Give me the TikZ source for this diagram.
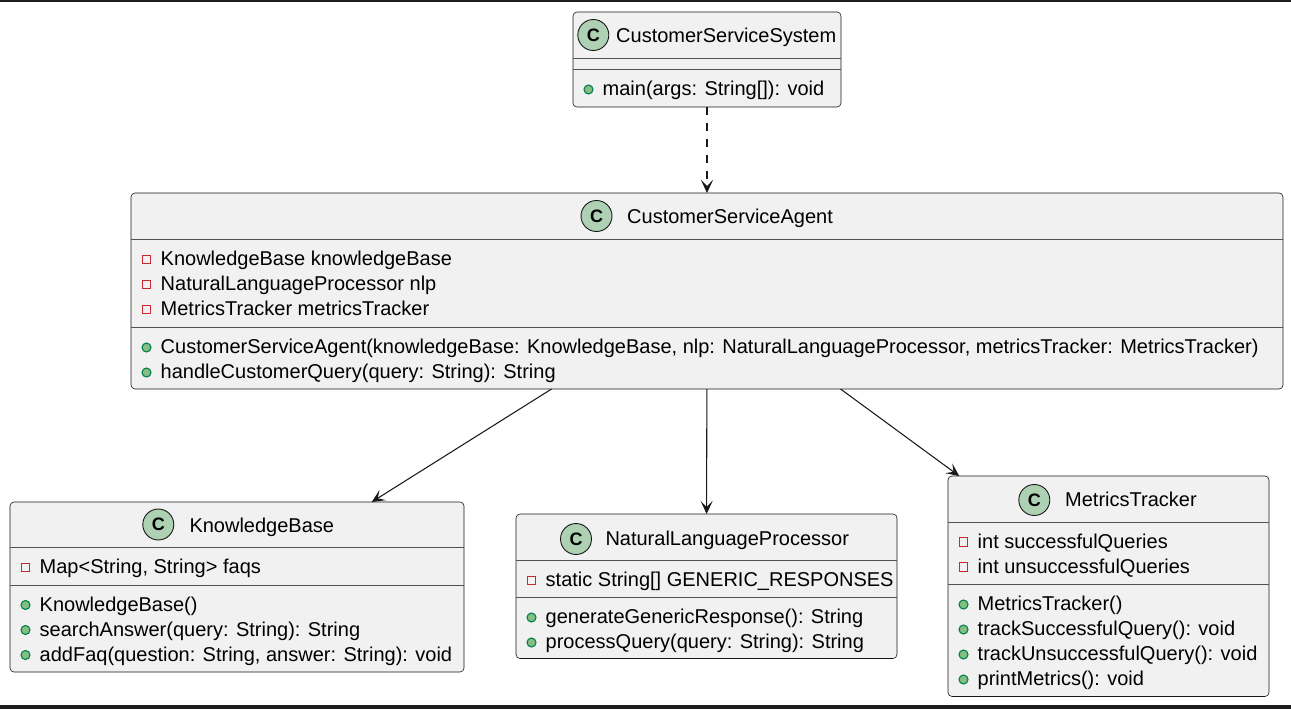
\documentclass[tikz,border=0pt]{standalone}
\usepackage{fontspec}
\setmainfont{Liberation Sans}
\usetikzlibrary{arrows.meta}
\definecolor{boxfill}{HTML}{F1F1F1}
\definecolor{boxline}{HTML}{181818}
\definecolor{cfill}{HTML}{ADD1B2}
\definecolor{privc}{HTML}{C82930}
\definecolor{pubfill}{HTML}{84BE84}
\definecolor{publine}{HTML}{038048}
\definecolor{band}{HTML}{1E1E1E}
\tikzset{
 classbox/.style={draw=boxline, fill=boxfill, rounded corners=4pt, line width=0.6pt, inner sep=0pt, outer sep=0pt},
 sepline/.style={draw=boxline!75, line width=0.6pt},
 cbadge/.style={circle, draw=boxline, fill=cfill, line width=0.9pt, minimum size=31pt, inner sep=0pt, font=\fontsize{18}{18}\selectfont\bfseries},
 titletext/.style={anchor=base west, inner sep=0pt, font=\fontsize{20}{24}\selectfont},
 member/.style={anchor=base west, inner sep=0pt, font=\fontsize{20}{24}\selectfont},
 priv/.style={draw=privc, line width=1.1pt},
 pub/.style={fill=pubfill, draw=publine, line width=1.1pt},
 dep/.style={draw=boxline, line width=1.05pt, -{Stealth[length=13pt,width=12pt,inset=6pt]}},
 depdash/.style={dep, dash pattern=on 8pt off 8pt},
}
\newcommand\umlbox[7]{%
 \node[classbox, minimum width={(#4-#2)*1pt}, minimum height={(#5-#3)*1pt}] (#1) at ({(#2+#4)/2},{(#3+#5)/2}) {};
 \draw[sepline] (#2,#6) -- (#4,#6);
 \draw[sepline] (#2,#7) -- (#4,#7);
}
\newcommand\umltitle[6]{%
 \node[cbadge] (#1c) at (#2,#3) {C};
 \node[titletext] (#1t) at (#4,#5) {#6};
}
\newcommand\attrrow[4]{%
 \draw[priv] ({#2+15.5-4.4},{#3-6-4.4}) rectangle ({#2+15.5+4.4},{#3-6+4.4});
 \node[member] (#1) at ({#2+29.5},#3) {#4};
}
\newcommand\methrow[4]{%
 \draw[pub] ({#2+15.5},{#3-6}) circle[radius=4.5pt];
 \node[member] (#1) at ({#2+29.5},#3) {#4};
}
\begin{document}
\begin{tikzpicture}[x=1pt,y=-1pt]
\useasboundingbox (0,0) rectangle (1291,709);
\fill[band] (0,0) rectangle (1291,2.3);
\fill[band] (0,705) rectangle (1291,709);

% CustomerServiceSystem
\umlbox{css}{573}{12}{841}{107}{58}{69}
\umltitle{css}{593.3}{35}{616}{42.5}{CustomerServiceSystem}
\methrow{cssm1}{573}{95.5}{main(args: String[]): void}

% CustomerServiceAgent
\umlbox{csa}{131}{193}{1283}{389}{239}{327}
\umltitle{csa}{596.5}{216}{627}{223.5}{CustomerServiceAgent}
\attrrow{csaa1}{131}{265.5}{KnowledgeBase knowledgeBase}
\attrrow{csaa2}{131}{290.5}{NaturalLanguageProcessor nlp}
\attrrow{csaa3}{131}{315.5}{MetricsTracker metricsTracker}
\methrow{csam1}{131}{353.5}{CustomerServiceAgent(knowledgeBase: KnowledgeBase, nlp: NaturalLanguageProcessor, metricsTracker: MetricsTracker)}
\methrow{csam2}{131}{378.5}{handleCustomerQuery(query: String): String}

% KnowledgeBase
\umlbox{kb}{10}{502}{464}{672}{547}{585}
\umltitle{kb}{158.3}{524.5}{189.3}{532.5}{KnowledgeBase}
\attrrow{kba1}{10}{573.5}{Map<String, String> faqs}
\methrow{kbm1}{10}{611}{KnowledgeBase()}
\methrow{kbm2}{10}{636}{searchAnswer(query: String): String}
\methrow{kbm3}{10}{661}{addFaq(question: String, answer: String): void}

% NaturalLanguageProcessor
\umlbox{nlp}{516}{514}{897}{658.5}{560}{597}
\umltitle{nlp}{576}{539}{605.3}{545}{NaturalLanguageProcessor}
\attrrow{nlpa1}{516}{586.5}{static String[] GENERIC\_RESPONSES}
\methrow{nlpm1}{516}{623.5}{generateGenericResponse(): String}
\methrow{nlpm2}{516}{648.5}{processQuery(query: String): String}

% MetricsTracker
\umlbox{mt}{948}{476}{1269}{696.5}{522}{584}
\umltitle{mt}{1034.3}{500}{1065}{506.5}{MetricsTracker}
\attrrow{mta1}{948}{548}{int successfulQueries}
\attrrow{mta2}{948}{573}{int unsuccessfulQueries}
\methrow{mtm1}{948}{610.5}{MetricsTracker()}
\methrow{mtm2}{948}{635.5}{trackSuccessfulQuery(): void}
\methrow{mtm3}{948}{660.5}{trackUnsuccessfulQuery(): void}
\methrow{mtm4}{948}{685.5}{printMetrics(): void}

% connectors
\draw[depdash] (css) -- (csa);
\draw[dep] (csa) -- (kb);
\draw[dep] (csa) -- (nlp);
\draw[dep] (csa) -- (mt);
\end{tikzpicture}
\end{document}
